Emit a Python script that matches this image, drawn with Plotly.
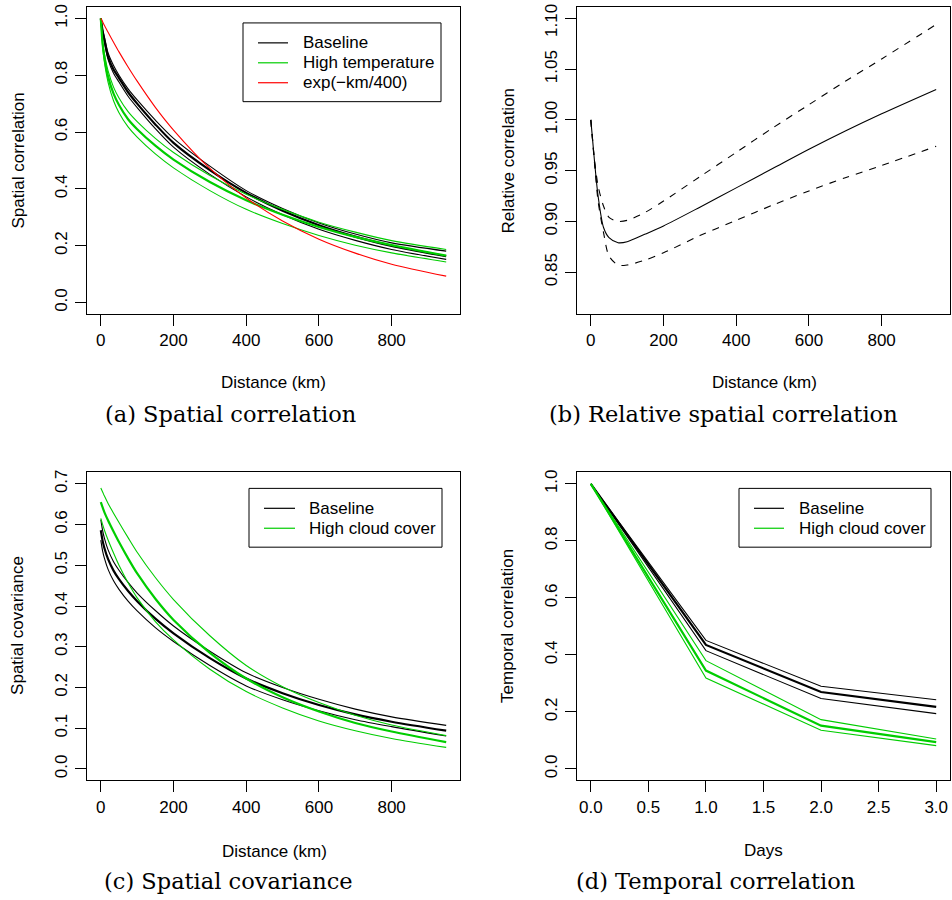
import plotly.graph_objects as go

# ---------------- data ----------------
km = [0, 5, 10, 20, 35, 50, 75, 100, 150, 200, 300, 400, 500, 600, 700, 800, 950]

# (a) spatial correlation
a_base_up  = [1.0, 0.960, 0.932, 0.878, 0.834, 0.800, 0.752, 0.713, 0.642, 0.578, 0.480, 0.394, 0.331, 0.280, 0.241, 0.210, 0.181]
a_base_mid = [1.0, 0.955, 0.925, 0.865, 0.820, 0.790, 0.740, 0.700, 0.627, 0.562, 0.466, 0.386, 0.323, 0.272, 0.232, 0.199, 0.163]
a_base_lo  = [1.0, 0.950, 0.915, 0.855, 0.807, 0.776, 0.726, 0.686, 0.612, 0.547, 0.451, 0.372, 0.309, 0.258, 0.219, 0.187, 0.152]
a_high_up  = [1.0, 0.920, 0.875, 0.815, 0.758, 0.720, 0.672, 0.637, 0.578, 0.528, 0.447, 0.381, 0.328, 0.283, 0.248, 0.218, 0.187]
a_high_mid = [1.0, 0.910, 0.860, 0.795, 0.735, 0.695, 0.645, 0.610, 0.552, 0.503, 0.424, 0.360, 0.309, 0.266, 0.231, 0.202, 0.165]
a_high_lo  = [1.0, 0.900, 0.845, 0.775, 0.710, 0.668, 0.618, 0.582, 0.523, 0.474, 0.394, 0.328, 0.278, 0.236, 0.202, 0.175, 0.143]
a_exp      = [1.0, 0.988, 0.975, 0.951, 0.916, 0.882, 0.829, 0.779, 0.687, 0.607, 0.472, 0.368, 0.287, 0.223, 0.174, 0.135, 0.093]

# (b) relative spatial correlation
b_mid = [1.0, 0.980, 0.960, 0.925, 0.894, 0.884, 0.879, 0.880, 0.8875, 0.8955, 0.914, 0.933, 0.952, 0.971, 0.989, 1.006, 1.030]
b_up  = [1.0, 0.980, 0.961, 0.935, 0.915, 0.904, 0.900, 0.901, 0.909, 0.920, 0.944, 0.968, 0.992, 1.015, 1.038, 1.060, 1.094]
b_lo  = [1.0, 0.979, 0.958, 0.920, 0.889, 0.866, 0.857, 0.857, 0.862, 0.869, 0.886, 0.901, 0.916, 0.930, 0.943, 0.955, 0.974]

# (c) spatial covariance
c_base_up  = [0.612, 0.585, 0.566, 0.538, 0.509, 0.488, 0.458, 0.432, 0.389, 0.351, 0.289, 0.236, 0.200, 0.171, 0.147, 0.128, 0.107]
c_base_mid = [0.586, 0.560, 0.542, 0.515, 0.487, 0.466, 0.437, 0.412, 0.369, 0.333, 0.272, 0.222, 0.186, 0.157, 0.134, 0.116, 0.094]
c_base_lo  = [0.562, 0.535, 0.517, 0.490, 0.462, 0.441, 0.412, 0.388, 0.347, 0.313, 0.254, 0.204, 0.170, 0.143, 0.121, 0.104, 0.081]
c_high_up  = [0.690, 0.680, 0.670, 0.652, 0.628, 0.605, 0.568, 0.532, 0.470, 0.416, 0.327, 0.254, 0.202, 0.163, 0.132, 0.108, 0.082]
c_high_mid = [0.655, 0.642, 0.630, 0.610, 0.583, 0.557, 0.517, 0.480, 0.418, 0.366, 0.285, 0.222, 0.176, 0.141, 0.113, 0.092, 0.066]
c_high_lo  = [0.615, 0.600, 0.586, 0.562, 0.530, 0.500, 0.457, 0.420, 0.362, 0.317, 0.245, 0.190, 0.150, 0.118, 0.094, 0.075, 0.053]

# (d) temporal correlation
days = [0, 1, 2, 3]
d_base_up  = [1.0, 0.451, 0.290, 0.243]
d_base_mid = [1.0, 0.435, 0.270, 0.218]
d_base_lo  = [1.0, 0.415, 0.247, 0.194]
d_high_up  = [1.0, 0.380, 0.173, 0.105]
d_high_mid = [1.0, 0.345, 0.152, 0.094]
d_high_lo  = [1.0, 0.319, 0.136, 0.082]

# ticks
km_ticks = [0, 200, 400, 600, 800]
corr_ticks = [0.0, 0.2, 0.4, 0.6, 0.8, 1.0]
rel_ticks = [0.85, 0.90, 0.95, 1.00, 1.05, 1.10]
rel_tick_labels = ["0.85", "0.90", "0.95", "1.00", "1.05", ""]   # "1.10" drawn as a note (clipped at top)
cov_ticks = [0.0, 0.1, 0.2, 0.3, 0.4, 0.5, 0.6, 0.7]
day_ticks = [0.0, 0.5, 1.0, 1.5, 2.0, 2.5, 3.0]

# legend labels
legend_a = ["Baseline", "High temperature", "exp(\u2212km/400)"]
legend_cd = ["Baseline", "High cloud cover"]

BLACK = "#000000"
GREEN = "#00CD00"
RED = "#FF0000"
THIN = 1.1
THICK = 2.2
SANS = "Liberation Sans, Arial, sans-serif"
SERIF = "DejaVu Serif, serif"

fig = go.Figure()


def add(x, y, color, width, xa, ya, name=None, dash="solid", shape="spline"):
    fig.add_trace(go.Scatter(
        x=x, y=y, mode="lines", xaxis=xa, yaxis=ya,
        line=dict(color=color, width=width, dash=dash, shape=shape,
                  smoothing=0.8 if shape == "spline" else None),
        name=name, showlegend=False, hoverinfo="skip"))


# panel a
add(km, a_base_mid, BLACK, THICK, "x", "y", legend_a[0])
add(km, a_base_up, BLACK, THIN, "x", "y", legend_a[0])
add(km, a_base_lo, BLACK, THIN, "x", "y", legend_a[0])
add(km, a_high_mid, GREEN, THICK, "x", "y", legend_a[1])
add(km, a_high_up, GREEN, THIN, "x", "y", legend_a[1])
add(km, a_high_lo, GREEN, THIN, "x", "y", legend_a[1])
add(km, a_exp, RED, THIN, "x", "y", legend_a[2])

# panel b
add(km, b_mid, BLACK, THIN, "x2", "y2", "Relative correlation")
add(km, b_up, BLACK, THIN, "x2", "y2", "Upper", dash="7px,7px")
add(km, b_lo, BLACK, THIN, "x2", "y2", "Lower", dash="7px,7px")

# panel c
add(km, c_base_mid, BLACK, THICK, "x3", "y3", legend_cd[0])
add(km, c_base_up, BLACK, THIN, "x3", "y3", legend_cd[0])
add(km, c_base_lo, BLACK, THIN, "x3", "y3", legend_cd[0])
add(km, c_high_mid, GREEN, THICK, "x3", "y3", legend_cd[1])
add(km, c_high_up, GREEN, THIN, "x3", "y3", legend_cd[1])
add(km, c_high_lo, GREEN, THIN, "x3", "y3", legend_cd[1])

# panel d
add(days, d_base_mid, BLACK, THICK, "x4", "y4", legend_cd[0], shape="linear")
add(days, d_base_up, BLACK, THIN, "x4", "y4", legend_cd[0], shape="linear")
add(days, d_base_lo, BLACK, THIN, "x4", "y4", legend_cd[0], shape="linear")
add(days, d_high_mid, GREEN, THICK, "x4", "y4", legend_cd[1], shape="linear")
add(days, d_high_up, GREEN, THIN, "x4", "y4", legend_cd[1], shape="linear")
add(days, d_high_lo, GREEN, THIN, "x4", "y4", legend_cd[1], shape="linear")

W, H = 952, 900


def px_x(p):
    return p / W


def px_y(p):
    return 1 - p / H


def axis(domain, rng, tickvals, fmt, anchor, is_y=False, ticktext=None):
    d = dict(domain=domain, range=rng, tickvals=tickvals, tickformat=fmt,
             showline=True, mirror=True, linecolor="black", linewidth=1,
             ticks="outside", ticklen=11, tickwidth=1, tickcolor="black",
             showgrid=False, zeroline=False, anchor=anchor, fixedrange=True,
             tickfont=dict(family=SANS, size=17, color="black"))
    if ticktext is not None:
        d["ticktext"] = ticktext
    if is_y:
        d["tickangle"] = -90
        d["ticklabelstandoff"] = 1
    else:
        d["ticklabelstandoff"] = 0
    return d


xa_l = [px_x(87), px_x(460)]
xa_r = [px_x(577), px_x(950)]
ya_t = [px_y(312), px_y(4)]
ya_b = [px_y(780), px_y(471)]

km_range = [-38, 988]

annotations = []
shapes = []


def note(text, x, y, size=17, family=SANS, angle=0, anchor="center"):
    annotations.append(dict(text=text, x=px_x(x), y=px_y(y), xref="paper", yref="paper",
                            showarrow=False, xanchor=anchor, yanchor="middle",
                            textangle=angle, font=dict(family=family, size=size, color="black")))


def legend_box(x0, y0, x1, y1, line_x0, line_x1, text_x, rows, labels, colors):
    shapes.append(dict(type="rect", xref="paper", yref="paper",
                       x0=px_x(x0), x1=px_x(x1), y0=px_y(y1), y1=px_y(y0),
                       line=dict(color="black", width=1), fillcolor="white", layer="above"))
    for yy, lab, col in zip(rows, labels, colors):
        shapes.append(dict(type="line", xref="paper", yref="paper",
                           x0=px_x(line_x0), x1=px_x(line_x1), y0=px_y(yy), y1=px_y(yy),
                           line=dict(color=col, width=1.2), layer="above"))
        note(lab, text_x, yy, anchor="left")


note("Spatial correlation", 18, 158, angle=-90)
note("Relative correlation", 508, 158, angle=-90)
note("Spatial covariance", 18, 625, angle=-90)
note("Temporal correlation", 508, 625, angle=-90)
note("Distance (km)", 273, 381)
note("Distance (km)", 764, 381)
note("Distance (km)", 274, 851)
note("Days", 763, 850)
note("(a) Spatial correlation", 230, 412, size=22.5, family=SERIF)
note("(b) Relative spatial correlation", 723, 412, size=22.5, family=SERIF)
note("(c) Spatial covariance", 228, 881, size=22.5, family=SERIF)
note("(d) Temporal correlation", 715, 881, size=22.5, family=SERIF)
note("1.10", 552, 18, angle=-90)

legend_box(243, 20, 441, 99, 258, 288, 301, [40, 60, 80], legend_a, [BLACK, GREEN, RED])
legend_box(249, 487, 442, 546, 264, 295, 307, [507, 527], legend_cd, [BLACK, GREEN])
legend_box(739, 487, 931, 546, 754, 784, 797, [507, 527], legend_cd, [BLACK, GREEN])

fig.update_layout(
    width=W, height=H, autosize=False,
    margin=dict(l=0, r=0, t=0, b=0),
    paper_bgcolor="white", plot_bgcolor="white",
    xaxis=axis(xa_l, km_range, km_ticks, "d", "y"),
    yaxis=axis(ya_t, [-0.04, 1.04], corr_ticks, ".1f", "x", True),
    xaxis2=axis(xa_r, km_range, km_ticks, "d", "y2"),
    yaxis2=axis(ya_t, [0.8088, 1.1112], rel_ticks, ".2f", "x2", True, rel_tick_labels),
    xaxis3=axis(xa_l, km_range, km_ticks, "d", "y3"),
    yaxis3=axis(ya_b, [-0.028, 0.728], cov_ticks, ".1f", "x3", True),
    xaxis4=axis(xa_r, [-0.12, 3.12], day_ticks, ".1f", "y4"),
    yaxis4=axis(ya_b, [-0.04, 1.04], corr_ticks, ".1f", "x4", True),
    annotations=annotations,
    shapes=shapes,
    showlegend=False,
)

fig.write_html("out.html", config={"displayModeBar": False, "staticPlot": True},
               post_script="document.body.style.margin='0';")
